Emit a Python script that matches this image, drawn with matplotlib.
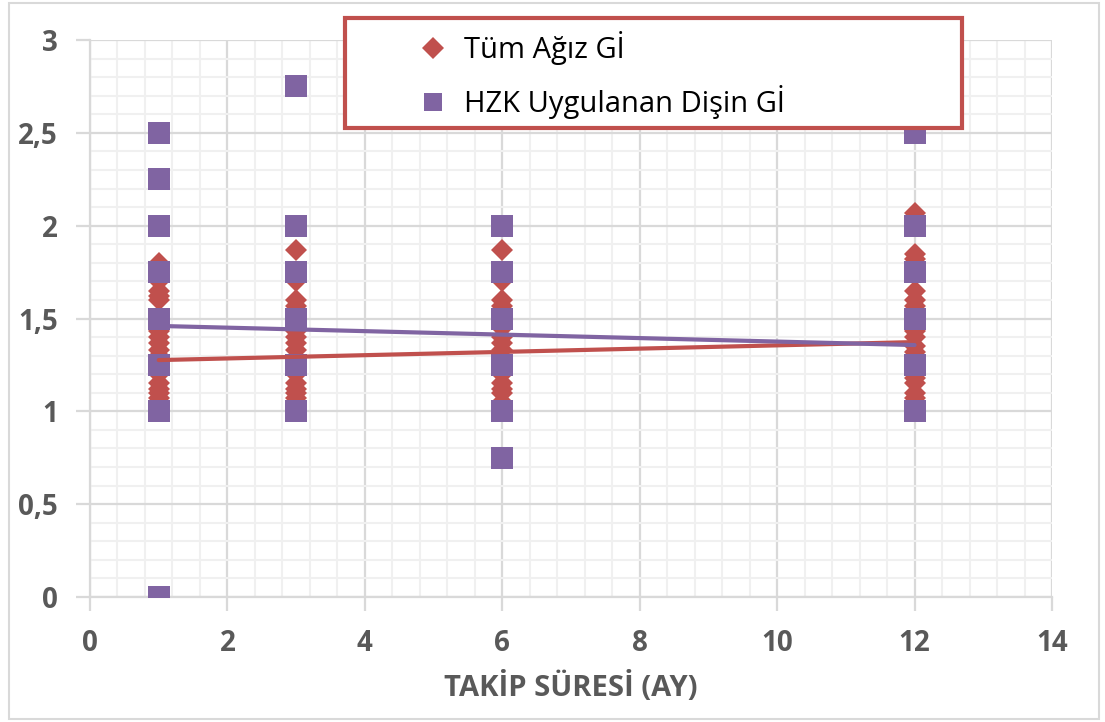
import numpy as np
import matplotlib.pyplot as plt
from matplotlib.ticker import MultipleLocator, FuncFormatter
from matplotlib.patches import Rectangle
from matplotlib.lines import Line2D

# takip suresi (ay) ve olculen GI degerleri
months = [1, 3, 6, 12]

tum_agiz = {
    1: [1.8, 1.7, 1.65, 1.62, 1.6, 1.43, 1.4, 1.37, 1.33, 1.3, 1.2, 1.15, 1.12, 1.1, 1.07],
    3: [1.87, 1.7, 1.6, 1.57, 1.43, 1.4, 1.37, 1.33, 1.2, 1.15, 1.12, 1.1, 1.07],
    6: [1.87, 1.7, 1.6, 1.57, 1.45, 1.4, 1.37, 1.33, 1.2, 1.15, 1.12, 1.1, 1.05],
    12: [2.07, 1.85, 1.82, 1.65, 1.6, 1.57, 1.43, 1.4, 1.35, 1.32, 1.18, 1.15, 1.1, 1.07],
}
hzk_dis = {
    1: [0, 1, 1.25, 1.5, 1.75, 2, 2.25, 2.5],
    3: [1, 1.25, 1.5, 1.75, 2, 2.75],
    6: [0.75, 1, 1.25, 1.5, 1.75, 2],
    12: [1, 1.25, 1.5, 1.75, 2, 2.5],
}

# dogrusal egilim cizgileri (uc noktalar)
trend_x = [1, 12]
trend_tum = [1.276, 1.373]
trend_hzk = [1.46, 1.357]

red = '#C0504D'
purple = '#8064A2'
gray = '#595959'

plt.rcParams['font.family'] = ['Open Sans', 'DejaVu Sans']

fig = plt.figure(figsize=(11.05, 7.22), dpi=100)
ax = fig.add_axes([90/1105, 1 - 597/722, (1052 - 90)/1105, (597 - 40)/722])

for m in months:
    ax.plot([m] * len(tum_agiz[m]), tum_agiz[m], 'D', color=red, ms=11.5, mew=0, zorder=3)
for m in months:
    ax.plot([m] * len(hzk_dis[m]), hzk_dis[m], 's', color=purple, ms=15.5, mew=0, zorder=4)

ax.plot(trend_x, trend_tum, '-', color=red, lw=3, zorder=5, solid_capstyle='round')
ax.plot(trend_x, trend_hzk, '-', color=purple, lw=3, zorder=6, solid_capstyle='round')

ax.set_xlim(0, 14)
ax.set_ylim(0, 3)
ax.xaxis.set_major_locator(MultipleLocator(2))
ax.xaxis.set_minor_locator(MultipleLocator(0.4))
ax.yaxis.set_major_locator(MultipleLocator(0.5))
ax.yaxis.set_minor_locator(MultipleLocator(0.1))
ax.yaxis.set_major_formatter(FuncFormatter(lambda v, p: ('%g' % v).replace('.', ',')))

ax.grid(which='major', color='#d9d9d9', lw=1.6, zorder=0)
ax.grid(which='minor', color='#f0f0f0', lw=1.5, zorder=0)
ax.set_axisbelow(True)
for s in ['top', 'right']:
    ax.spines[s].set_visible(False)
for s in ['left', 'bottom']:
    ax.spines[s].set_color('#d9d9d9')
    ax.spines[s].set_linewidth(1.6)

ax.tick_params(which='major', length=10, width=1.6, color='#d9d9d9',
               labelsize=20, labelcolor=gray, pad=13)
ax.tick_params(which='minor', length=0)
for lab in ax.get_xticklabels() + ax.get_yticklabels():
    lab.set_fontweight('bold')

ax.set_xlabel('TAKİP SÜRESİ (AY)', fontsize=21, fontweight='bold', color=gray, labelpad=10)

# lejant cercevesi
fig.patches.append(Rectangle((345/1105, 1 - 128/722), (962 - 345)/1105, (128 - 18)/722,
                             transform=fig.transFigure, facecolor='white',
                             edgecolor=red, lw=3, zorder=10))
handles = [
    Line2D([], [], ls='none', marker='D', color=red, ms=11, mew=0),
    Line2D([], [], ls='none', marker='s', color=purple, ms=13.5, mew=0),
]
leg = fig.legend(handles, ['Tüm Ağız Gİ', 'HZK Uygulanan Dişin Gİ'],
                 loc='upper left', bbox_to_anchor=(395/1105, 1 - 11/722),
                 frameon=False, fontsize=21, handlelength=1.2, handletextpad=0.45,
                 labelspacing=0.68, borderpad=0.2)
leg.set_zorder(11)

# grafik alani cercevesi
fig.patches.append(Rectangle((9/1105, 3/722), 1090/1105, 716/722, transform=fig.transFigure,
                             facecolor='none', edgecolor='#d9d9d9', lw=1.5, zorder=0))

fig.savefig('out.png', dpi=100)
